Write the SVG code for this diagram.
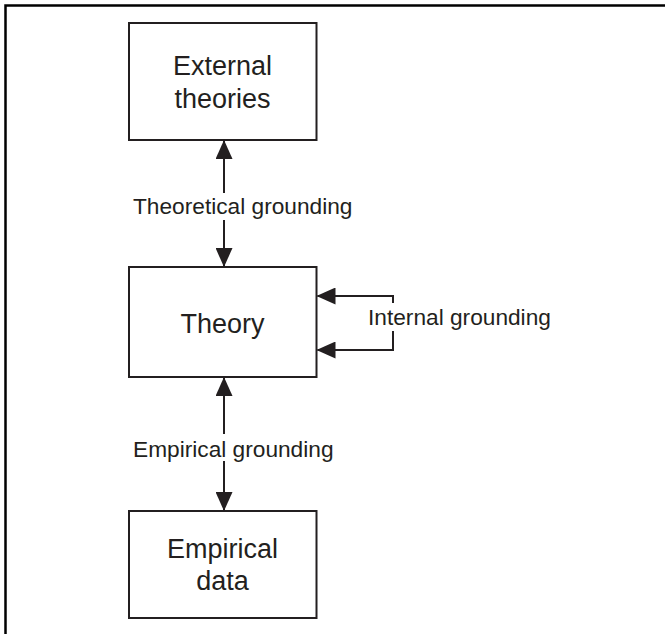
<svg xmlns="http://www.w3.org/2000/svg" width="665" height="634" viewBox="0 0 665 634">
  <defs>
    <marker id="ah" viewBox="0 0 19 17" refX="18" refY="8.5" markerWidth="19" markerHeight="17" markerUnits="userSpaceOnUse" orient="auto">
      <path d="M0,0 L19,8.5 L0,17 z" fill="#231f20"/>
    </marker>
    <style>
      .box { fill: #ffffff; stroke: #231f20; stroke-width: 2; }
      .node-text { font-family: "Liberation Sans", Arial, sans-serif; font-size: 27px; fill: #231f20; text-anchor: middle; }
      .label { font-family: "Liberation Sans", Arial, sans-serif; font-size: 22.7px; fill: #231f20; }
      .conn { fill: none; stroke: #231f20; stroke-width: 2; }
      .frame { fill: none; stroke: #000000; stroke-width: 2.5; }
    </style>
  </defs>
  <rect width="665" height="634" fill="#ffffff"/>
  <path class="frame" d="M5.5,634 L5.5,5.5 L665,5.5"/>

  <g id="external-theories">
    <rect class="box" x="129" y="23" width="187.5" height="117"/>
    <text class="node-text" x="222.5" y="75">External</text>
    <text class="node-text" x="222.5" y="108">theories</text>
  </g>

  <g id="theory">
    <rect class="box" x="129" y="267" width="187.5" height="110"/>
    <text class="node-text" x="222.5" y="333">Theory</text>
  </g>

  <g id="empirical-data">
    <rect class="box" x="129" y="511" width="187.5" height="107"/>
    <text class="node-text" x="222.5" y="558">Empirical</text>
    <text class="node-text" x="222.5" y="590">data</text>
  </g>

  <g id="connectors">
    <line class="conn" x1="224" y1="193" x2="224" y2="141" marker-end="url(#ah)"/>
    <line class="conn" x1="224" y1="220" x2="224" y2="266" marker-end="url(#ah)"/>
    <line class="conn" x1="224" y1="434" x2="224" y2="378" marker-end="url(#ah)"/>
    <line class="conn" x1="224" y1="461" x2="224" y2="510" marker-end="url(#ah)"/>
    <path class="conn" d="M393,303 L393,296 L317.5,296" marker-end="url(#ah)"/>
    <path class="conn" d="M393,331 L393,350 L317.5,350" marker-end="url(#ah)"/>
  </g>

  <g id="labels">
    <text class="label" x="133" y="214">Theoretical grounding</text>
    <text class="label" x="368" y="325">Internal grounding</text>
    <text class="label" x="133" y="457">Empirical grounding</text>
  </g>
</svg>
